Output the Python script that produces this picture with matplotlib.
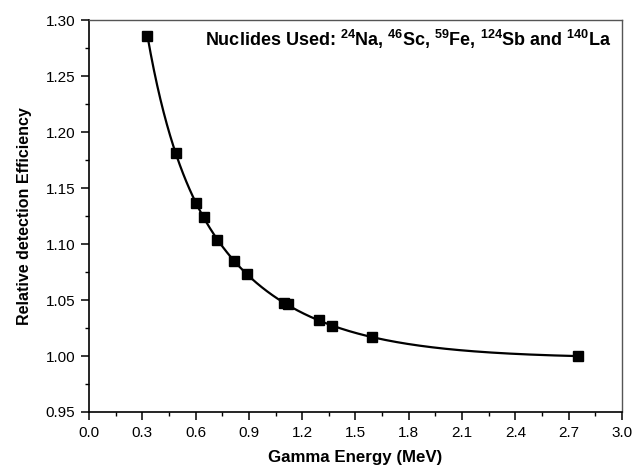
import numpy as np
import matplotlib
matplotlib.use('Agg')
import matplotlib.pyplot as plt
from matplotlib.ticker import MultipleLocator, FormatStrFormatter

plt.rcParams['font.family'] = ['Liberation Sans', 'DejaVu Sans']
plt.rcParams['mathtext.fontset'] = 'custom'
plt.rcParams['mathtext.rm'] = 'Liberation Sans:bold'
plt.rcParams['mathtext.it'] = 'Liberation Sans:bold'
plt.rcParams['mathtext.bf'] = 'Liberation Sans:bold'

# gamma energies (MeV) and relative detection efficiency
energy = [0.329, 0.487, 0.603, 0.646, 0.721, 0.816, 0.889, 1.097, 1.118,
          1.292, 1.367, 1.595, 2.752]
rel_eff = [1.286, 1.181, 1.137, 1.124, 1.104, 1.085, 1.073, 1.047, 1.046,
           1.032, 1.027, 1.017, 1.000]

x = np.array(energy)
y = np.array(rel_eff)

# second order exponential decay fit y = y0 + A1*exp(-x/t1) + A2*exp(-x/t2)
best = None
for t1 in np.linspace(0.05, 0.6, 111):
    for t2 in np.linspace(0.3, 3.0, 136):
        if t2 <= t1:
            continue
        M = np.column_stack([np.ones_like(x), np.exp(-x / t1), np.exp(-x / t2)])
        coef = np.linalg.lstsq(M, y, rcond=None)[0]
        err = np.sum((M @ coef - y) ** 2)
        if best is None or err < best[0]:
            best = (err, t1, t2, coef)
_, t1, t2, c = best
xf = np.linspace(x.min(), x.max(), 400)
yf = c[0] + c[1] * np.exp(-xf / t1) + c[2] * np.exp(-xf / t2)

fig = plt.figure(figsize=(6.33, 4.67), dpi=100)
ax = fig.add_axes([0.1406, 0.1178, 0.8420, 0.8392])

ax.plot(xf, yf, color='black', lw=1.6, zorder=2)
ax.plot(x, y, ls='none', marker='s', ms=6.5, color='black', zorder=3)

ax.set_xlim(0.0, 3.0)
ax.set_ylim(0.95, 1.30)
ax.xaxis.set_major_locator(MultipleLocator(0.3))
ax.xaxis.set_minor_locator(MultipleLocator(0.15))
ax.yaxis.set_major_locator(MultipleLocator(0.05))
ax.yaxis.set_minor_locator(MultipleLocator(0.025))
ax.xaxis.set_major_formatter(FormatStrFormatter('%.1f'))
ax.yaxis.set_major_formatter(FormatStrFormatter('%.2f'))

ax.tick_params(which='major', direction='out', length=6, width=1.1,
               labelsize=11, pad=4, top=False, right=False)
ax.tick_params(which='minor', direction='out', length=3, width=1.0,
               top=False, right=False)

for s in ['left', 'bottom']:
    ax.spines[s].set_linewidth(1.2)
    ax.spines[s].set_color('black')
for s in ['top', 'right']:
    ax.spines[s].set_linewidth(1.0)
    ax.spines[s].set_color('#555555')

ax.set_xlabel('Gamma Energy (MeV)', fontsize=12.2, fontweight='bold', labelpad=7)
ax.set_ylabel('Relative detection Efficiency', fontsize=11.5, fontweight='bold', labelpad=10)

ax.text(0.98, 0.95,
        r'Nuclides Used: $^{24}$Na, $^{46}$Sc, $^{59}$Fe, $^{124}$Sb and $^{140}$La',
        transform=ax.transAxes, ha='right', va='center',
        fontsize=13, fontweight='bold')

fig.savefig('out.png', dpi=100)
